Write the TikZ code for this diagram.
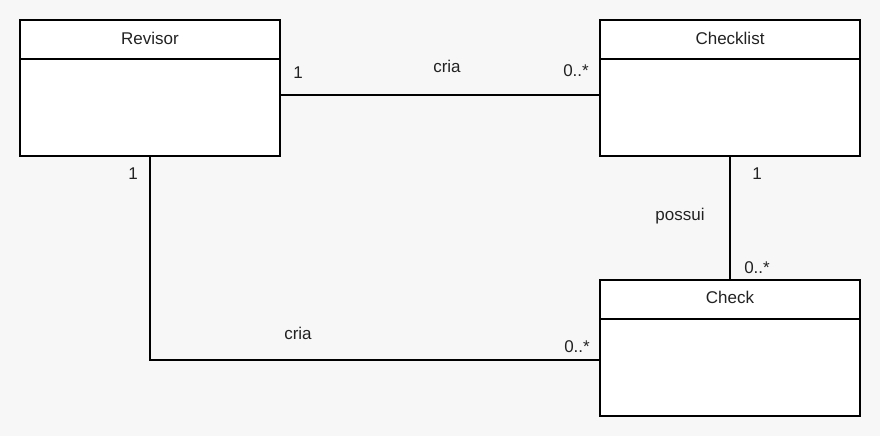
\documentclass[tikz,border=0pt]{standalone}
\usepackage{fontspec}
\setmainfont{Liberation Sans}
\definecolor{bgcol}{HTML}{F7F7F7}
\definecolor{txtcol}{HTML}{222222}
\begin{document}
\begin{tikzpicture}[x=1pt,y=1pt,
  classbox/.style={draw=black, fill=white, line width=2pt, minimum width=260pt, minimum height=136pt, inner sep=0pt},
  conn/.style={draw=black, line width=2pt},
  lbl/.style={font=\fontsize{17}{20}\selectfont, text=txtcol, inner sep=0pt}
]
\fill[bgcol] (0,0) rectangle (880,436);
\useasboundingbox (0,0) rectangle (880,436);
% classes
\node[classbox] (rev) at (150,348) {};
\node[classbox] (cl) at (730,348) {};
\node[classbox] (chk) at (730,88) {};
\draw[line width=2pt] ([yshift=-40pt]rev.north west) -- ([yshift=-40pt]rev.north east);
\draw[line width=2pt] ([yshift=-40pt]cl.north west) -- ([yshift=-40pt]cl.north east);
\draw[line width=2pt] ([yshift=-40pt]chk.north west) -- ([yshift=-40pt]chk.north east);
\node[lbl] (revt) at (150,398) {Revisor};
\node[lbl] (clt) at (730,398) {Checklist};
\node[lbl] (chkt) at (730,139) {Check};
% connectors
\draw[conn] ([yshift=-7pt]rev.east) -- ([yshift=-7pt]cl.west);
\draw[conn] (rev.south) |- ([yshift=-12pt]chk.west);
\draw[conn] (cl.south) -- (chk.north);
% labels
\node[lbl] (l1) at (298,363) {1};
\node[lbl] (l2) at (447,370) {cria};
\node[lbl] (l3) at (576,365) {0..*};
\node[lbl] (l4) at (133,262) {1};
\node[lbl] (l5) at (298,103) {cria};
\node[lbl] (l6) at (577,89) {0..*};
\node[lbl] (l7) at (757,262) {1};
\node[lbl] (l8) at (680,220) {possui};
\node[lbl] (l9) at (757,168) {0..*};
\end{tikzpicture}
\end{document}
